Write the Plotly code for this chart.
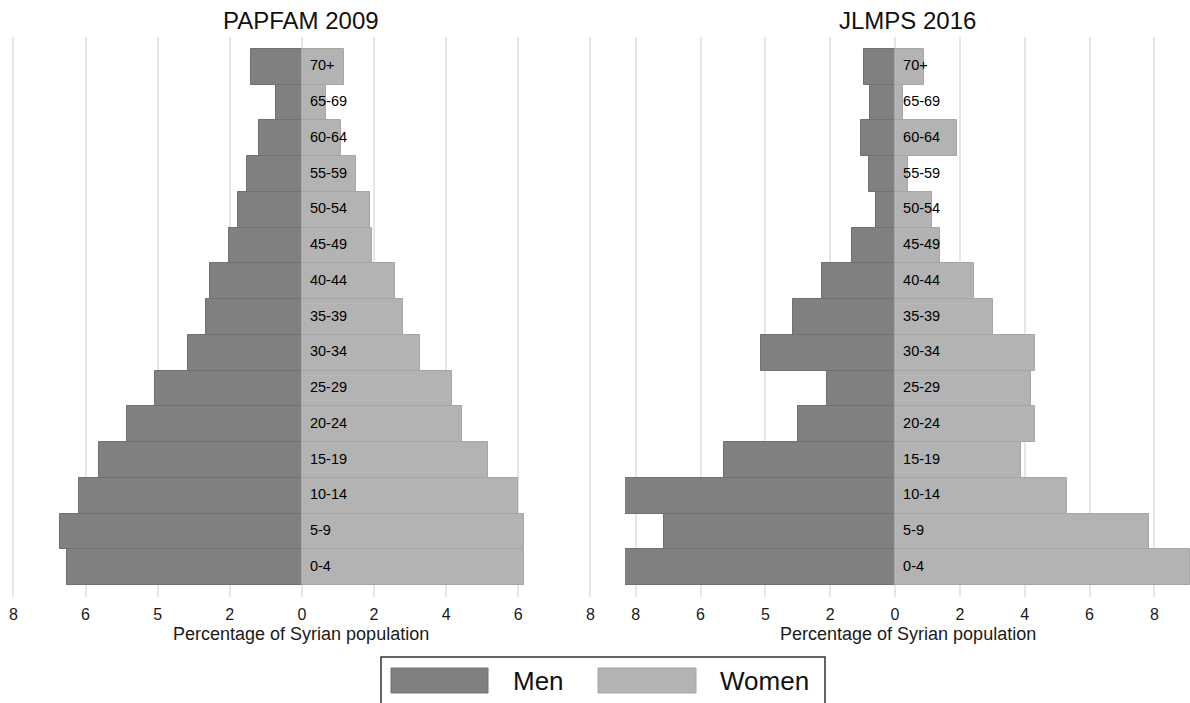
import plotly.graph_objects as go

ages = ["0-4", "5-9", "10-14", "15-19", "20-24", "25-29", "30-34", "35-39",
        "40-44", "45-49", "50-54", "55-59", "60-64", "65-69", "70+"]

papfam_men = [6.51, 6.71, 6.19, 5.63, 4.84, 4.06, 3.17, 2.66, 2.54, 2.02, 1.78, 1.51, 1.19, 0.73, 1.41]
papfam_women = [6.16, 6.16, 5.99, 5.15, 4.44, 4.15, 3.28, 2.79, 2.58, 1.94, 1.90, 1.50, 1.08, 0.66, 1.17]

jlmps_men = [8.32, 7.14, 8.35, 5.28, 3.00, 2.10, 4.12, 3.16, 2.25, 1.34, 0.59, 0.80, 1.06, 0.77, 0.96]
jlmps_women = [9.10, 7.82, 5.29, 3.90, 4.31, 4.18, 4.31, 3.02, 2.43, 1.38, 1.15, 0.41, 1.90, 0.26, 0.89]

tick_vals = [-8, -6, -4, -2, 0, 2, 4, 6, 8]
tick_text = ["8", "6", "5", "2", "0", "2", "4", "6", "8"]

panel_titles = ["PAPFAM 2009", "JLMPS 2016"]
axis_title = "Percentage of Syrian population"
legend_labels = ["Men", "Women"]

MEN_COL = "#808080"
WOMEN_COL = "#b3b3b3"
FONT = "Arial, Liberation Sans, sans-serif"

W, H = 1190, 703

fig = go.Figure()

panels = [
    (papfam_men, papfam_women, "x", "y"),
    (jlmps_men, jlmps_women, "x2", "y2"),
]
for men, women, xa, ya in panels:
    fig.add_trace(go.Bar(y=ages, x=[-v for v in men], orientation="h", xaxis=xa, yaxis=ya,
                         marker=dict(color=MEN_COL, line=dict(color="#707070", width=1)),
                         showlegend=False, hoverinfo="skip"))
    fig.add_trace(go.Bar(y=ages, x=women, orientation="h", xaxis=xa, yaxis=ya,
                         marker=dict(color=WOMEN_COL, line=dict(color="#a6a6a6", width=1)),
                         showlegend=False, hoverinfo="skip"))
    fig.add_trace(go.Scatter(y=ages, x=[0] * len(ages), mode="text", text=["  " + a for a in ages],
                             textposition="middle right", xaxis=xa, yaxis=ya,
                             textfont=dict(family=FONT, size=14.5, color="#000000"),
                             showlegend=False, hoverinfo="skip"))

y_top_px, y_bot_px = 37, 597
ydom = [1 - y_bot_px / H, 1 - y_top_px / H]

left_dom = [8 / W, 594 / W]
right_dom = [625 / W, 1.0]

xcommon = dict(tickvals=tick_vals, ticktext=tick_text, showgrid=True, gridcolor="#e6e6e6",
               gridwidth=2, zeroline=False, showline=False, ticks="", ticklabelstandoff=6,
               tickfont=dict(family=FONT, size=16, color="#1a1a1a"), fixedrange=True)
ycommon = dict(type="category", categoryorder="array", categoryarray=ages,
               showticklabels=False, showgrid=False, zeroline=False, showline=False,
               ticks="", range=[-0.83, 14.83], domain=ydom)

fig.update_layout(
    width=W, height=H,
    margin=dict(l=0, r=0, t=0, b=0),
    paper_bgcolor="white", plot_bgcolor="white",
    barmode="overlay", bargap=0,
    xaxis=dict(domain=left_dom, range=[-8.15, 8.1], anchor="y", **xcommon),
    xaxis2=dict(domain=right_dom, range=[-8.33, 9.1], anchor="y2", **xcommon),
    yaxis=dict(anchor="x", **ycommon),
    yaxis2=dict(anchor="x2", **ycommon),
    showlegend=False,
)

def cx(dom):
    return (dom[0] + dom[1]) / 2

annotations = []
for dom, t in zip([left_dom, right_dom], panel_titles):
    annotations.append(dict(x=cx(dom), y=1 - 20 / H, xref="paper", yref="paper", text=t,
                            showarrow=False, xanchor="center", yanchor="middle",
                            font=dict(family=FONT, size=24, color="#111111")))
    annotations.append(dict(x=cx(dom), y=1 - 634 / H, xref="paper", yref="paper", text=axis_title,
                            showarrow=False, xanchor="center", yanchor="middle",
                            font=dict(family=FONT, size=18, color="#1a1a1a")))

# legend (manual)
shapes = [
    dict(type="rect", xref="paper", yref="paper", x0=381 / W, x1=825 / W,
         y0=1 - 710 / H, y1=1 - 657 / H, line=dict(color="#333333", width=1.5),
         fillcolor="white", layer="above"),
    dict(type="rect", xref="paper", yref="paper", x0=391 / W, x1=488 / W,
         y0=1 - 693 / H, y1=1 - 668 / H, line=dict(color="#707070", width=1),
         fillcolor=MEN_COL, layer="above"),
    dict(type="rect", xref="paper", yref="paper", x0=598 / W, x1=696 / W,
         y0=1 - 693 / H, y1=1 - 668 / H, line=dict(color="#a6a6a6", width=1),
         fillcolor=WOMEN_COL, layer="above"),
]
annotations.append(dict(x=511 / W, y=1 - 681 / H, xref="paper", yref="paper", text=legend_labels[0],
                        showarrow=False, xanchor="left", yanchor="middle",
                        font=dict(family=FONT, size=26, color="#111111")))
annotations.append(dict(x=718 / W, y=1 - 681 / H, xref="paper", yref="paper", text=legend_labels[1],
                        showarrow=False, xanchor="left", yanchor="middle",
                        font=dict(family=FONT, size=26, color="#111111")))

fig.update_layout(annotations=annotations, shapes=shapes)

fig.write_html("out.html")
